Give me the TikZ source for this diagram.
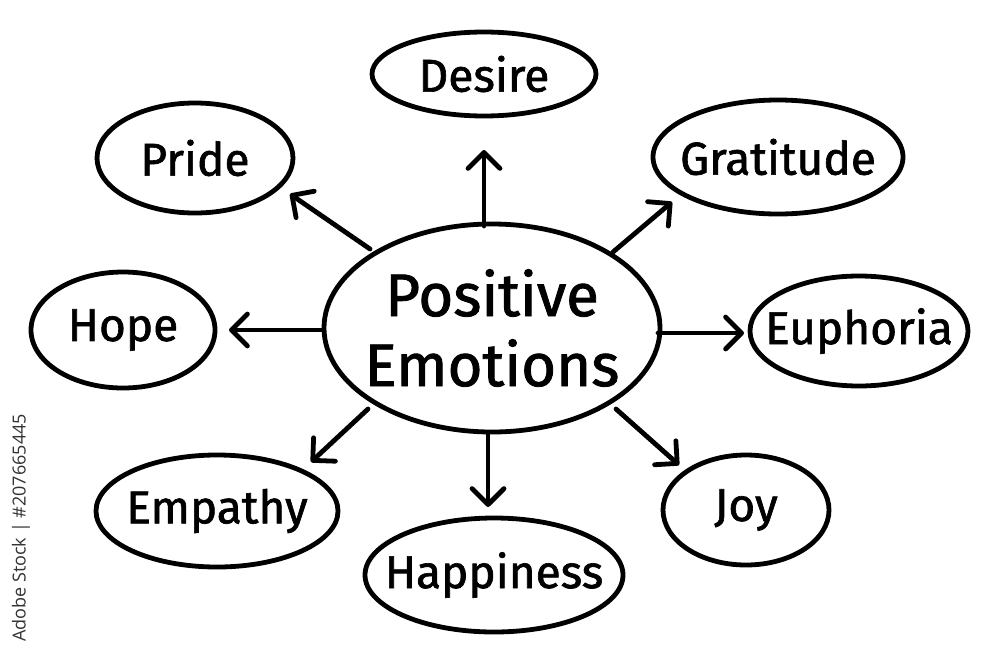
\documentclass[tikz,border=0pt]{standalone}
\usepackage{fontspec}
\setmainfont{Fira Sans}[UprightFeatures={FakeBold=1.4}]
\newfontfamily\wmfont{Open Sans}
\usetikzlibrary{shapes.geometric,arrows.meta}
\tikzset{
  bub/.style={draw=black, line width=4.8pt, ellipse, inner sep=-60pt, font=\fontsize{46}{54}\selectfont},
  arr/.style={draw=black, line width=4.8pt, line cap=round,
    -{Straight Barb[length=16pt,width=32pt,line cap=round,line join=round]}},
}
\begin{document}
\begin{tikzpicture}[x=1pt,y=-1pt]
\useasboundingbox[fill=white] (0,0) rectangle (1000,667);
% central
\node[bub, minimum width=336pt, minimum height=208pt, align=center,
  font=\fontsize{60}{70}\selectfont] (pe) at (492,328) {Positive\\Emotions};
\node[bub, minimum width=224pt, minimum height=84pt] (desire) at (484,74) {Desire};
\node[bub, minimum width=196pt, minimum height=110pt] (pride) at (195,158) {Pride};
\node[bub, minimum width=250pt, minimum height=114pt] (grat) at (778,157) {Gratitude};
\node[bub, minimum width=184pt, minimum height=116pt] (hope) at (123,330) {Hope};
\node[bub, minimum width=218pt, minimum height=110pt] (euph) at (859,331) {Euphoria};
\node[bub, minimum width=242pt, minimum height=112pt] (emp) at (217,511) {Empathy};
\node[bub, minimum width=258pt, minimum height=114pt] (happy) at (494,575) {Happiness};
\node[bub, minimum width=166pt, minimum height=110pt] (joy) at (746,510) {Joy};
% arrow tips
\coordinate (tDesire) at (484,150);
\coordinate (tPride) at (290,194);
\coordinate (tGrat) at (672,202);
\coordinate (tHope) at (229,330);
\coordinate (tEuph) at (744,333);
\coordinate (tEmp) at (311,462);
\coordinate (tHappy) at (488,507);
\coordinate (tJoy) at (679,465);
\coordinate (sDesire) at (484,226);
\coordinate (sPride) at (370,249);
\coordinate (sGrat) at (613,252);
\coordinate (sHope) at (322,330);
\coordinate (sEuph) at (658,333);
\coordinate (sEmp) at (368,409);
\coordinate (sHappy) at (488,434);
\coordinate (sJoy) at (616,409);
\foreach \n in {Desire,Pride,Grat,Hope,Euph,Emp,Happy,Joy}{
  \draw[arr] (s\n) -- (t\n);
}
% watermark text
\node[rotate=90, text=black!80, font=\wmfont\fontsize{18}{22}\selectfont, inner sep=0pt] (wm) at (21,528) {Adobe Stock | \#207665445};
\end{tikzpicture}
\end{document}
